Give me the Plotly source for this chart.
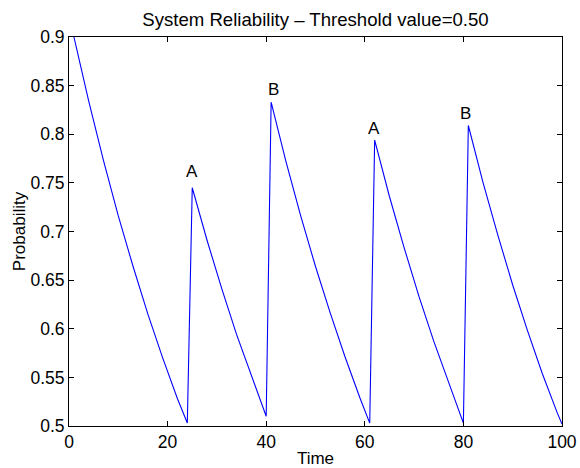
import plotly.graph_objects as go

# System reliability over time; each maintenance action (A or B) restores
# the reliability once it has decayed to the 0.50 threshold.
time = [1, 4, 7, 10, 13, 16, 19, 22, 24,
        25, 28, 31, 34, 37, 40,
        41, 44, 47, 50, 53, 56, 59, 61,
        62, 65, 68, 71, 74, 77, 80,
        81, 84, 87, 90, 93, 96, 99, 100]
probability = [0.900, 0.834, 0.773, 0.716, 0.664, 0.615, 0.570, 0.528, 0.503,
               0.745, 0.691, 0.641, 0.594, 0.551, 0.510,
               0.833, 0.772, 0.716, 0.664, 0.616, 0.571, 0.529, 0.503,
               0.794, 0.736, 0.683, 0.633, 0.587, 0.544, 0.503,
               0.809, 0.750, 0.696, 0.645, 0.598, 0.554, 0.514, 0.502]

# Maintenance action labels shown above each restoration peak
action_names = ["A", "B", "A", "B"]
action_time = [24.9, 41.4, 61.9, 80.5]
action_prob = [0.762, 0.846, 0.806, 0.821]

x_ticks = [0, 20, 40, 60, 80, 100]
y_ticks = [0.5, 0.55, 0.6, 0.65, 0.7, 0.75, 0.8, 0.85, 0.9]
y_tick_text = ["0.5", "0.55", "0.6", "0.65", "0.7", "0.75", "0.8", "0.85", "0.9"]

FONT = "Liberation Sans, Arial, Helvetica, sans-serif"

fig = go.Figure()
fig.add_trace(go.Scatter(
    x=time, y=probability, mode="lines",
    line=dict(color="#0000FF", width=1.1),
    showlegend=False, hoverinfo="skip",
))

for name, t, p in zip(action_names, action_time, action_prob):
    fig.add_annotation(x=t, y=p, text=name, showarrow=False,
                       xanchor="center", yanchor="middle",
                       font=dict(family=FONT, size=17, color="black"))

axis_common = dict(
    showline=True, linecolor="black", linewidth=1,
    mirror="ticks", ticks="inside", ticklen=5, tickcolor="black", tickwidth=1,
    showgrid=False, zeroline=False, automargin=False,
    tickfont=dict(family=FONT, size=17.5, color="black"),
)

fig.update_xaxes(range=[0, 100], tickvals=x_ticks,
                 title=dict(text="Time", standoff=2,
                            font=dict(family=FONT, size=17, color="black")),
                 **axis_common)
fig.update_yaxes(range=[0.5, 0.9], tickvals=y_ticks, ticktext=y_tick_text,
                 title=dict(text="Probability", standoff=0,
                            font=dict(family=FONT, size=17, color="black")),
                 **axis_common)

fig.update_layout(
    width=580, height=468,
    margin=dict(l=69, r=18, t=37, b=42),
    paper_bgcolor="white", plot_bgcolor="white",
    title=dict(text="System Reliability \u2013 Threshold value=0.50",
               x=(69 + 562) / 2 / 580, xanchor="center",
               y=1 - 19 / 468, yanchor="middle",
               font=dict(family=FONT, size=18.6, color="black")),
)

fig.write_html("out.html")
